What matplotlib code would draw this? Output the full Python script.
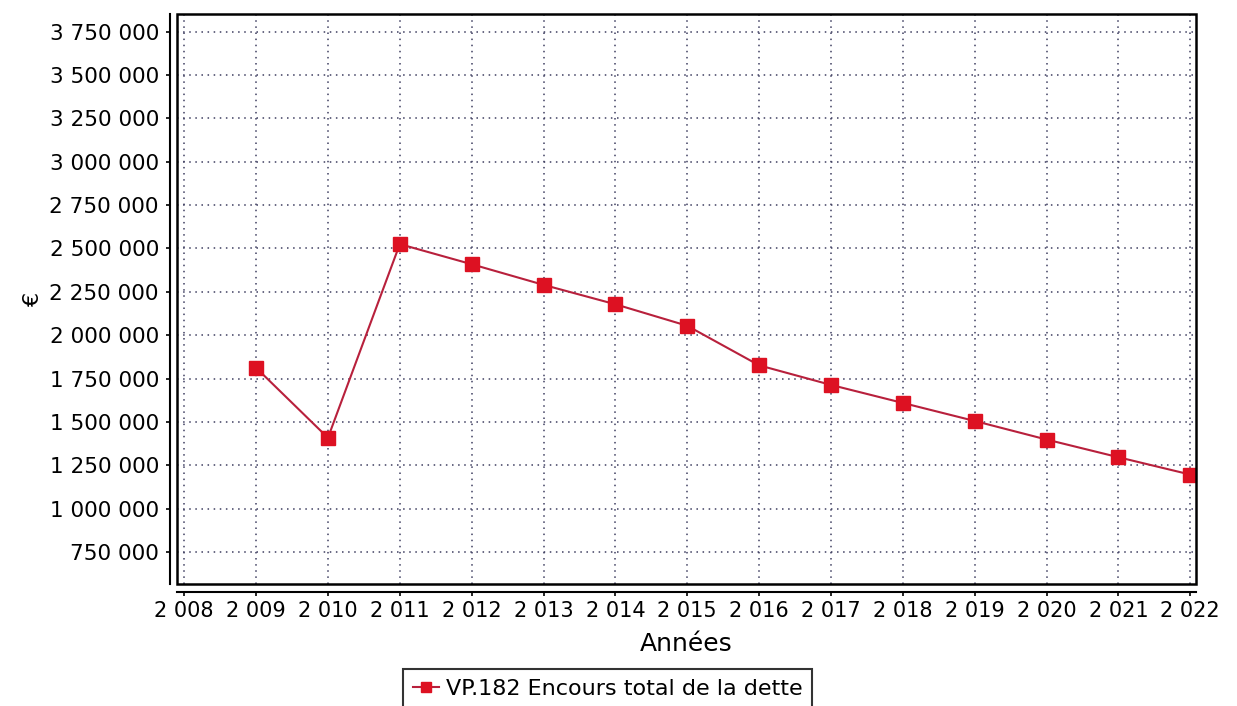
import numpy as np
import matplotlib.pyplot as plt
from matplotlib.patches import Rectangle
from matplotlib.ticker import FuncFormatter

# data
years = [2009, 2010, 2011, 2012, 2013, 2014, 2015, 2016, 2017, 2018, 2019, 2020, 2021, 2022]
encours = [1812000, 1408000, 2525000, 2409000, 2290000, 2178000, 2054000,
           1826000, 1713000, 1609000, 1505000, 1398000, 1296000, 1196000]
x_ticks = list(range(2008, 2023))
y_ticks = list(range(750000, 3750001, 250000))
serie_label = "VP.182 Encours total de la dette"

plt.rcParams['font.family'] = ['DejaVu Sans']

def fr_fmt(v, pos=None):
    return f"{int(round(v)):,}".replace(",", " ")

fig = plt.figure(figsize=(12.37, 7.06), dpi=100)
ax = fig.add_axes([0.1431, 0.1728, 0.8238, 0.8074])

ax.plot(years, encours, color='#b8203c', lw=1.5, marker='s', ms=9.5,
        mfc='#dd1122', mec='#dd1122', label=serie_label, zorder=3)

ax.set_xlim(2007.9, 2022.08)
ax.set_ylim(565000, 3852000)
ax.set_xticks(x_ticks)
ax.set_yticks(y_ticks)
ax.xaxis.set_major_formatter(FuncFormatter(fr_fmt))
ax.yaxis.set_major_formatter(FuncFormatter(fr_fmt))

ax.grid(True, color='#3e3e60', lw=1.1, linestyle=(0, (1, 3)))

# offset axis lines, plot box drawn separately
for side in ['top', 'right']:
    ax.spines[side].set_visible(False)
ax.spines['left'].set_position(('outward', 5))
ax.spines['bottom'].set_position(('outward', 5.5))
ax.spines['left'].set_linewidth(1.5)
ax.spines['bottom'].set_linewidth(1.5)
ax.add_patch(Rectangle((0, 0), 1, 1, transform=ax.transAxes, fill=False,
                       lw=1.8, ec='black', clip_on=False, zorder=4))

ax.tick_params(axis='both', length=3, width=1.2, colors='black')
ax.tick_params(axis='y', pad=5, labelsize=15.5)
ax.tick_params(axis='x', pad=4, labelsize=15)

ax.set_xlabel("Années", fontsize=18, labelpad=8)
ax.set_ylabel("€", fontsize=16, labelpad=5)

leg = fig.legend(loc='upper center', bbox_to_anchor=(607.5 / 1237, 1 - 669 / 706),
                 fontsize=16, frameon=True, fancybox=False, edgecolor='black',
                 handlelength=1.2, handletextpad=0.3, borderpad=0.45,
                 borderaxespad=0, markerscale=0.7)
leg.get_frame().set_linewidth(1.5)

fig.savefig("out.png", dpi=100)
